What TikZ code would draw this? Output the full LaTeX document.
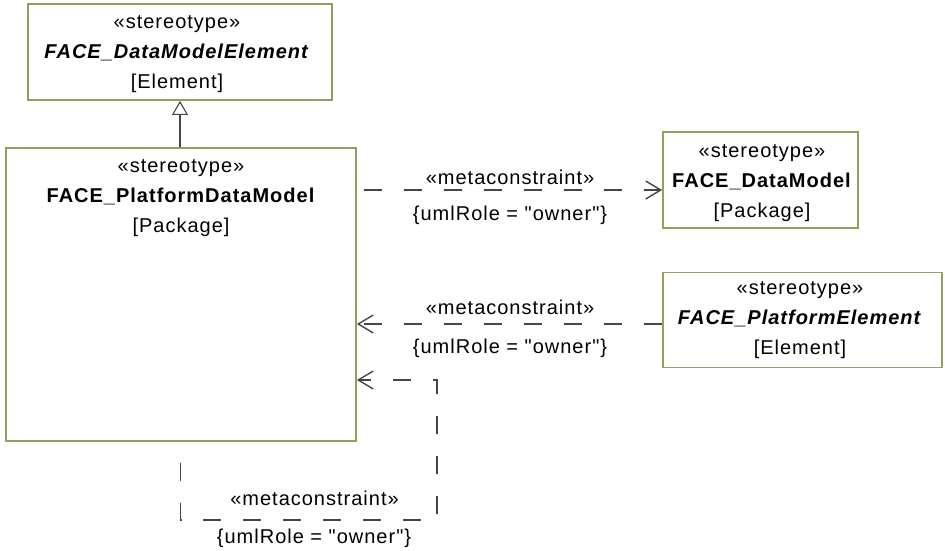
\documentclass[tikz,border=0pt]{standalone}
\usepackage{fontspec}
\newfontfamily\lab{Liberation Sans}[LetterSpace=5]
\usetikzlibrary{arrows.meta}
\definecolor{boxline}{RGB}{155,155,95}
\definecolor{conn}{RGB}{70,70,70}
\tikzset{
  umlbox/.style={draw=boxline, line width=1.8pt, fill=white, inner sep=0pt},
  txt/.style={font=\lab\fontsize{20}{30}\selectfont, align=center, inner sep=0pt, text=black},
  lbl/.style={font=\lab\fontsize{20}{24}\selectfont, inner sep=0pt, text=black, anchor=base},
  dep/.style={draw=conn, line width=1.4pt, dash pattern=on 18pt off 22pt, -{Straight Barb[length=15pt,width=18pt,line width=1.4pt]}},
  gen/.style={draw=conn, line width=1.3pt, -{Triangle[open,length=14pt,width=16pt,line width=1.1pt,fill=white]}}
}
\begin{document}
\begin{tikzpicture}[x=1pt,y=-1pt]
\useasboundingbox (0,0) rectangle (945,550);
% boxes
\node[umlbox, minimum width=304pt, minimum height=96pt] (dme) at (180,52) {};
\node[umlbox, minimum width=350pt, minimum height=293pt] (pdm) at (181,294.5) {};
\node[umlbox, minimum width=195pt, minimum height=96pt] (dm) at (760.5,180) {};
\node[umlbox, minimum width=279pt, minimum height=95pt] (pe) at (802.5,320) {};
% texts
\node[txt] (dmet) at (177,54.5) {«stereotype»\\\textbf{\textit{FACE\_DataModelElement}}\\{}[Element]};
\node[txt] (pdmt) at (181,198.5) {«stereotype»\\\textbf{FACE\_PlatformDataModel}\\{}[Package]};
\node[txt] (dmt) at (762,183.5) {«stereotype»\\\textbf{FACE\_DataModel}\\{}[Package]};
\node[txt] (pet) at (800,320.5) {«stereotype»\\\textbf{\textit{FACE\_PlatformElement}}\\{}[Element]};
% generalization
\draw[gen] (pdm.north -| dme.south) -- (dme.south);
% connector 1
\draw[dep, dash phase=33pt] ([yshift=-10pt]pdm.east |- dm.west) -- ([yshift=-10pt]dm.west);
\node[lbl] (l1a) at (510,184) {«metaconstraint»};
\node[lbl] (l1b) at (510,220) {\{umlRole = "owner"\}};
% connector 2
\draw[dep] ([yshift=-4pt]pe.west) -- ([yshift=-4pt]pdm.east |- pe.west);
\node[lbl] (l2a) at (510,314) {«metaconstraint»};
\node[lbl] (l2b) at (510,353) {\{umlRole = "owner"\}};
% connector 3 (self)
\coordinate (c3) at (437,520);
\draw[dep, dash phase=19pt] ([xshift=-0.5pt]pdm.south) |- (c3) |- ([yshift=-85.5pt]pdm.east);
\node[lbl] (l3a) at (314.5,505) {«metaconstraint»};
\node[lbl] (l3b) at (314,543) {\{umlRole = "owner"\}};
\end{tikzpicture}
\end{document}
